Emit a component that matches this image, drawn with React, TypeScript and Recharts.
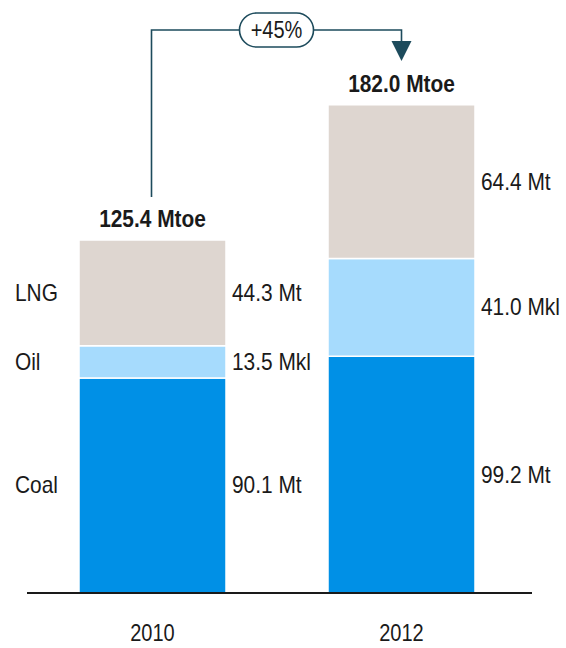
import { BarChart, Bar, XAxis, YAxis, LabelList } from "recharts";

// Primary energy by source, two reference years
const years = ["2010", "2012"];
const coal = [90.1, 99.2];
const oil = [13.5, 41.0];
const lng = [44.3, 64.4];
const totals = ["125.4 Mtoe", "182.0 Mtoe"];
const growth = "+45%";

const sources = [
    { key: "coal", name: "Coal", unit: "Mt", color: "#0090E6" },
    { key: "oil", name: "Oil", unit: "Mkl", color: "#A6DBFD" },
    { key: "lng", name: "LNG", unit: "Mt", color: "#DED6D0" },
];

const data = years.map((year, i) => ({
    year,
    coal: coal[i],
    oil: oil[i],
    lng: lng[i],
}));

const W = 566;
const H = 648;
const MARGIN = { top: 68, right: 34, bottom: 25, left: 27 };
const PAD = { left: 1, right: 6 };
const STEP = (W - MARGIN.left - MARGIN.right - PAD.left - PAD.right) / years.length;
const ARROW_Y = 30;

const FONT = '"Liberation Sans", Arial, sans-serif';
const TEXT = "#1a1a1a";
const ARROW = "#1d4b5c";

// condensed look: squeeze the sans face horizontally
function NarrowText({
    x,
    y,
    size = 24,
    anchor = "start",
    bold = false,
    children,
}: {
    x: number;
    y: number;
    size?: number;
    anchor?: "start" | "middle" | "end";
    bold?: boolean;
    children: React.ReactNode;
}) {
    return (
        <text
            transform={`translate(${x},${y}) scale(0.87,1)`}
            textAnchor={anchor}
            fontFamily={FONT}
            fontSize={size}
            fontWeight={bold ? "bold" : "normal"}
            fill={TEXT}
        >
            {children}
        </text>
    );
}

function segmentLabel(src: (typeof sources)[number]) {
    return (props: any) => {
        const { x, y, width, height, value, index } = props;
        const cy = y + height / 2 + 8;
        return (
            <g>
                <NarrowText x={x + width + 6} y={cy}>
                    {`${Number(value).toFixed(1)} ${src.unit}`}
                </NarrowText>
                {index === 0 && (
                    <NarrowText x={x - 64} y={cy}>
                        {src.name}
                    </NarrowText>
                )}
            </g>
        );
    };
}

function totalLabel(props: any) {
    const { x, y, width, index } = props;
    const cx = x + width / 2;
    const label = (
        <NarrowText x={cx} y={y - 13} anchor="middle" bold>
            {totals[index]}
        </NarrowText>
    );
    if (index !== 1) return label;

    // growth arrow from the first bar's total to this one
    const x0 = cx - STEP - 1;
    const x1 = cx;
    const mid = (x0 + x1) / 2;
    return (
        <g>
            {label}
            <path
                d={`M${x0},197 V${ARROW_Y} H${x1} V${ARROW_Y + 11}`}
                fill="none"
                stroke={ARROW}
                strokeWidth={1.6}
            />
            <path
                d={`M${x1 - 10},${ARROW_Y + 11} H${x1 + 10} L${x1},${ARROW_Y + 31} Z`}
                fill={ARROW}
            />
            <rect
                x={mid - 37}
                y={ARROW_Y - 17}
                width={74}
                height={34}
                rx={17}
                fill="#fff"
                stroke={ARROW}
                strokeWidth={1.6}
            />
            <NarrowText x={mid} y={ARROW_Y + 8} size={23} anchor="middle">
                {growth}
            </NarrowText>
        </g>
    );
}

function YearTick(props: any) {
    const { x, y, payload } = props;
    return (
        <NarrowText x={x} y={y + 16} size={23} anchor="middle">
            {payload.value}
        </NarrowText>
    );
}

export default function App() {
    return (
        <div style={{ position: "absolute", left: 0, top: 0, background: "#fff" }}>
            <BarChart width={W} height={H} data={data} margin={MARGIN}>
                <XAxis
                    dataKey="year"
                    height={30}
                    padding={PAD}
                    tickLine={false}
                    tickMargin={26}
                    axisLine={{ stroke: TEXT, strokeWidth: 2 }}
                    tick={<YearTick />}
                />
                <YAxis hide domain={[0, 220]} />
                {sources.map((src) => (
                    <Bar
                        key={src.key}
                        dataKey={src.key}
                        name={src.name}
                        stackId="energy"
                        fill={src.color}
                        stroke="#fff"
                        strokeWidth={1.5}
                        barSize={147}
                        isAnimationActive={false}
                    >
                        <LabelList dataKey={src.key} content={segmentLabel(src)} />
                        {src.key === "lng" && (
                            <LabelList dataKey={src.key} content={totalLabel} />
                        )}
                    </Bar>
                ))}
            </BarChart>
        </div>
    );
}
